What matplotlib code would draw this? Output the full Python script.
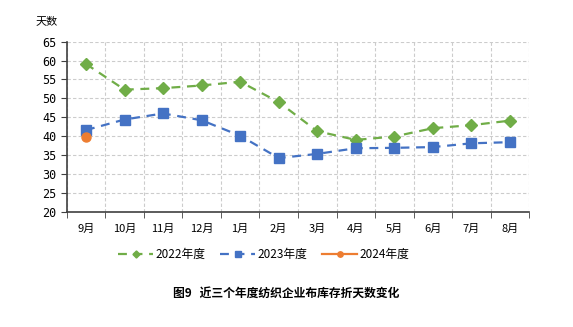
import matplotlib.pyplot as plt
import numpy as np

plt.rcParams['font.family'] = ['Noto Sans CJK SC', 'DejaVu Sans']

# months of the fiscal year
months = ['9月', '10月', '11月', '12月', '1月', '2月', '3月', '4月', '5月', '6月', '7月', '8月']
days_2022 = [59.1, 52.3, 52.7, 53.4, 54.4, 49.0, 41.3, 39.0, 39.9, 42.1, 42.9, 44.1]
days_2023 = [41.6, 44.4, 46.0, 44.2, 40.1, 34.2, 35.3, 36.8, 36.9, 37.1, 38.1, 38.4]
days_2024 = [39.7]

fig = plt.figure(figsize=(5.73, 3.27), dpi=100)
ax = fig.add_axes([0.1164, 0.3526, 0.8073, 0.52])

x = np.arange(len(months))
ax.plot(x, days_2022, color='#70AD47', ls=(0, (4, 3)), lw=1.6, marker='D', ms=6,
        label='2022年度')
ax.plot(x, days_2023, color='#4472C4', ls=(0, (4, 3)), lw=1.6, marker='s', ms=6.5,
        label='2023年度')
ax.plot(x[:len(days_2024)], days_2024, color='#ED7D31', lw=1.6, marker='o', ms=6.5,
        label='2024年度')

ax.set_xlim(-0.5, len(months) - 0.5)
ax.set_ylim(20, 65)
ax.set_yticks(range(20, 66, 5))
ax.set_xticks(x)
ax.set_xticklabels(months, fontsize=8)
ax.set_xticks(np.arange(-0.5, len(months), 1), minor=True)
ax.tick_params(axis='x', which='major', length=0, pad=9)
ax.tick_params(axis='x', which='minor', length=4, color='#404040')
ax.tick_params(axis='y', length=4, color='#404040', labelsize=8.5)
for lab in ax.get_yticklabels():
    lab.set_family('DejaVu Sans Mono')

ax.grid(True, which='minor', axis='x', ls=(0, (3, 2)), color='#cccccc', lw=0.8)
ax.grid(True, which='major', axis='y', ls=(0, (3, 2)), color='#cccccc', lw=0.8)
ax.set_axisbelow(True)
for s in ['top', 'right']:
    ax.spines[s].set_visible(False)
ax.spines['left'].set_color('#404040')
ax.spines['bottom'].set_color('#404040')
ax.spines['left'].set_linewidth(1.2)
ax.spines['bottom'].set_linewidth(1.2)

fig.text(0.082, 0.935, '天数', fontsize=8, ha='center', va='center')

ax.legend(loc='center', bbox_to_anchor=(0.426, -0.25), ncol=3, frameon=False,
          fontsize=8.5, handlelength=3.0, columnspacing=1.2, handletextpad=0.2,
          markerscale=0.6)

fig.text(0.5, 0.104, '图9   近三个年度纺织企业布库存折天数变化', fontsize=8.5,
         fontweight='bold', ha='center', va='center')

fig.savefig('out.png', dpi=100)
